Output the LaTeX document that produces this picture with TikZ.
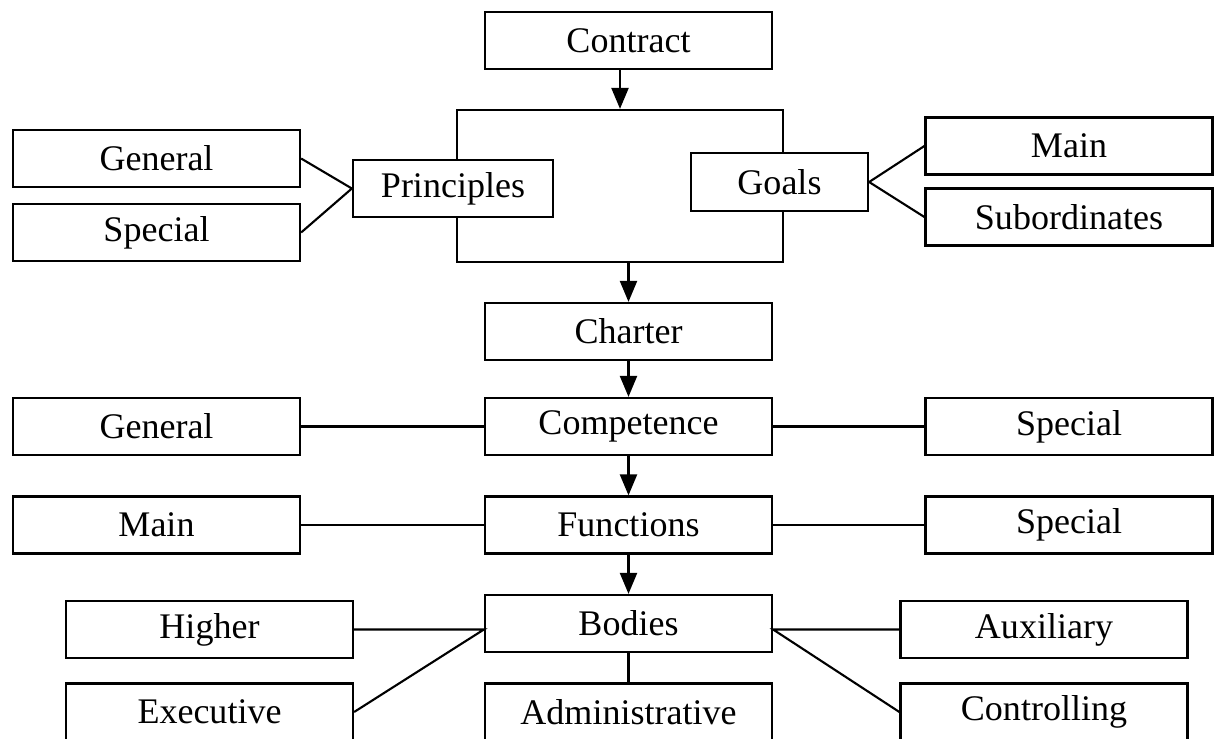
\documentclass[tikz,border=0pt]{standalone}
\usepackage{fontspec}
\setmainfont{Liberation Serif}
\usetikzlibrary{arrows.meta}
\tikzset{
  box/.style={draw,fill=white,line width=1.3pt,minimum width=5.74cm,minimum height=1.14cm,
    inner sep=0pt,font=\fontsize{20.5}{24}\selectfont},
  link/.style={line width=1.2pt},
  flow/.style={line width=1.3pt,-{Triangle[width=0.34cm,length=0.42cm]}}
}
\begin{document}
\begin{tikzpicture}[x=0.02cm,y=-0.02cm]
\clip (0,0) rectangle (1214,738);
% middle column
\node[box] (contract) at (628.5,40.5) {Contract};
\node[draw,line width=1.3pt,minimum width=6.52cm,minimum height=3.04cm] (frame) at (620,186) {};
\node[box,minimum width=4cm] (principles) at (453,188.5) {Principles};
\node[box,minimum width=3.54cm,minimum height=1.16cm] (goals) at (779.5,182) {Goals};
\node[box] (charter) at (628.5,331.5) {Charter};
\node[box] (competence) at (628.5,426.5) {Competence};
\node[box] (functions) at (628.5,525) {Functions};
\node[box] (bodies) at (628.5,623.5) {Bodies};
\node[box] (admin) at (628.5,712) {Administrative};
% left side
\node[box] (genP) at (156.5,158.5) {General};
\node[box] (specP) at (156.5,232.5) {Special};
\node[box] (genC) at (156.5,426.5) {General};
\node[box] (mainF) at (156.5,525) {Main};
\node[box] (higher) at (209.5,629.5) {Higher};
\node[box] (executive) at (209.5,712) {Executive};
% right side
\node[box] (mainG) at (1069,146) {Main};
\node[box] (subG) at (1069,217) {Subordinates};
\node[box] (specC) at (1069,426.5) {Special};
\node[box] (specF) at (1069,525) {Special};
\node[box] (auxiliary) at (1044,629.5) {Auxiliary};
\node[box] (controlling) at (1044,712) {Controlling};
\coordinate (bodyL) at (bodies.west |- higher.east);
\coordinate (bodyR) at (bodies.east |- auxiliary.west);
% arrows down the middle
\draw[flow] (contract.south -| frame.north) -- (frame.north);
\draw[flow] (frame.south -| charter.north) -- (charter.north);
\draw[flow] (charter) -- (competence);
\draw[flow] (competence) -- (functions);
\draw[flow] (functions) -- (bodies);
% side links
\draw[link] (genP.east) -- (principles.west) -- (specP.east);
\draw[link] (mainG.west) -- (goals.east) -- (subG.west);
\draw[link] (genC) -- (competence) -- (specC);
\draw[link] (mainF) -- (functions) -- (specF);
\draw[link] (higher.east) -- (bodyL) -- (executive.east);
\draw[link] (auxiliary.west) -- (bodyR) -- (controlling.west);
\draw[link] (bodies) -- (admin);
\end{tikzpicture}
\end{document}
